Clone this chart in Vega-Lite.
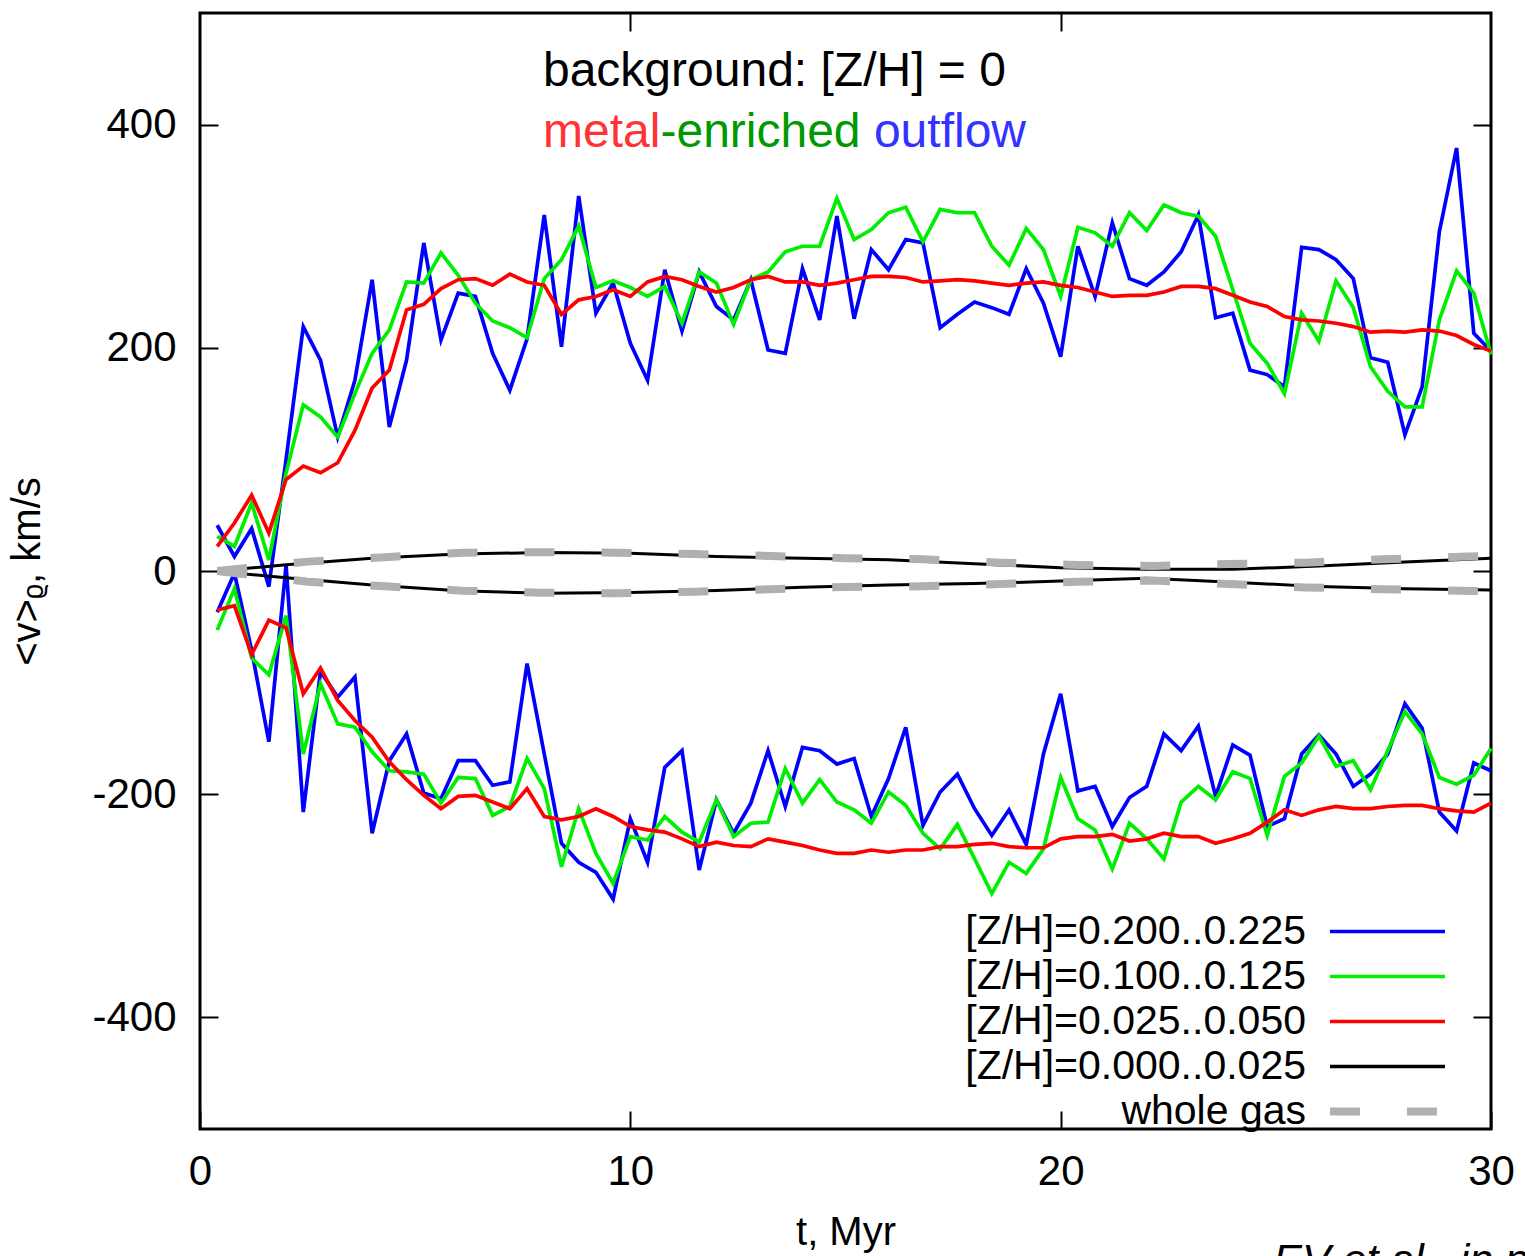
{
  "$schema": "https://vega.github.io/schema/vega-lite/v6.json",
  "width": 1291,
  "height": 1116,
  "autosize": {"type": "none"},
  "padding": {"left": 200, "top": 13, "right": 34, "bottom": 127},
  "background": "white",
  "config": {
    "view": {"stroke": "black", "strokeWidth": 3},
    "axis": {
      "domain": false, "grid": false,
      "tickColor": "black", "tickWidth": 2, "tickSize": -18,
      "labelFont": "Liberation Sans", "labelFontSize": 42, "labelColor": "black",
      "titleFont": "Liberation Sans", "titleFontSize": 40, "titleFontWeight": "normal", "titleColor": "black"
    }
  },
  "datasets": {
    "keys": [
      {"k": "bu", "s": "z200"}, {"k": "bl", "s": "z200"},
      {"k": "gu", "s": "z100"}, {"k": "gl", "s": "z100"},
      {"k": "ru", "s": "z025"}, {"k": "rl", "s": "z025"}
    ],
    "wide": [
      {"t": 0.4, "bu": 41, "gu": 31, "ru": 22, "bl": -37, "gl": -53, "rl": -35},
      {"t": 0.8, "bu": 13, "gu": 22, "ru": 43, "bl": -2, "gl": -16, "rl": -31},
      {"t": 1.2, "bu": 38, "gu": 61, "ru": 68, "bl": -71, "gl": -78, "rl": -75},
      {"t": 1.6, "bu": -14, "gu": 10, "ru": 34, "bl": -153, "gl": -93, "rl": -44},
      {"t": 2.0, "bu": 100, "gu": 88, "ru": 82, "bl": 5, "gl": -40, "rl": -51},
      {"t": 2.4, "bu": 219, "gu": 149, "ru": 94, "bl": -216, "gl": -164, "rl": -110},
      {"t": 2.8, "bu": 189, "gu": 138, "ru": 88, "bl": -90, "gl": -101, "rl": -87},
      {"t": 3.2, "bu": 120, "gu": 120, "ru": 97, "bl": -113, "gl": -137, "rl": -116},
      {"t": 3.6, "bu": 171, "gu": 159, "ru": 126, "bl": -95, "gl": -140, "rl": -134},
      {"t": 4.0, "bu": 261, "gu": 195, "ru": 164, "bl": -235, "gl": -162, "rl": -149},
      {"t": 4.4, "bu": 129, "gu": 216, "ru": 180, "bl": -170, "gl": -179, "rl": -171},
      {"t": 4.8, "bu": 189, "gu": 259, "ru": 234, "bl": -146, "gl": -180, "rl": -187},
      {"t": 5.2, "bu": 294, "gu": 258, "ru": 239, "bl": -199, "gl": -182, "rl": -201},
      {"t": 5.6, "bu": 207, "gu": 285, "ru": 253, "bl": -204, "gl": -208, "rl": -213},
      {"t": 6.0, "bu": 249, "gu": 265, "ru": 261, "bl": -170, "gl": -185, "rl": -202},
      {"t": 6.4, "bu": 246, "gu": 240, "ru": 262, "bl": -170, "gl": -186, "rl": -201},
      {"t": 6.8, "bu": 195, "gu": 224, "ru": 256, "bl": -192, "gl": -219, "rl": -207},
      {"t": 7.2, "bu": 162, "gu": 218, "ru": 266, "bl": -189, "gl": -211, "rl": -213},
      {"t": 7.6, "bu": 208, "gu": 209, "ru": 259, "bl": -83, "gl": -168, "rl": -195},
      {"t": 8.0, "bu": 319, "gu": 262, "ru": 256, "bl": -164, "gl": -195, "rl": -220},
      {"t": 8.4, "bu": 201, "gu": 279, "ru": 230, "bl": -244, "gl": -265, "rl": -223},
      {"t": 8.8, "bu": 336, "gu": 309, "ru": 243, "bl": -261, "gl": -213, "rl": -220},
      {"t": 9.2, "bu": 231, "gu": 254, "ru": 246, "bl": -270, "gl": -253, "rl": -213},
      {"t": 9.6, "bu": 258, "gu": 260, "ru": 252, "bl": -294, "gl": -280, "rl": -220},
      {"t": 10.0, "bu": 204, "gu": 254, "ru": 246, "bl": -222, "gl": -238, "rl": -229},
      {"t": 10.4, "bu": 171, "gu": 246, "ru": 259, "bl": -261, "gl": -241, "rl": -232},
      {"t": 10.8, "bu": 270, "gu": 255, "ru": 264, "bl": -176, "gl": -220, "rl": -234},
      {"t": 11.2, "bu": 215, "gu": 222, "ru": 261, "bl": -161, "gl": -234, "rl": -240},
      {"t": 11.6, "bu": 268, "gu": 268, "ru": 255, "bl": -268, "gl": -243, "rl": -247},
      {"t": 12.0, "bu": 237, "gu": 258, "ru": 250, "bl": -205, "gl": -205, "rl": -243},
      {"t": 12.4, "bu": 225, "gu": 221, "ru": 254, "bl": -235, "gl": -238, "rl": -246},
      {"t": 12.8, "bu": 261, "gu": 261, "ru": 261, "bl": -208, "gl": -226, "rl": -247},
      {"t": 13.2, "bu": 198, "gu": 268, "ru": 264, "bl": -161, "gl": -225, "rl": -240},
      {"t": 13.6, "bu": 195, "gu": 286, "ru": 259, "bl": -211, "gl": -177, "rl": -243},
      {"t": 14.0, "bu": 271, "gu": 291, "ru": 259, "bl": -158, "gl": -208, "rl": -246},
      {"t": 14.4, "bu": 225, "gu": 291, "ru": 256, "bl": -161, "gl": -187, "rl": -250},
      {"t": 14.8, "bu": 318, "gu": 334, "ru": 258, "bl": -173, "gl": -207, "rl": -253},
      {"t": 15.2, "bu": 226, "gu": 297, "ru": 261, "bl": -168, "gl": -214, "rl": -253},
      {"t": 15.6, "bu": 288, "gu": 306, "ru": 264, "bl": -220, "gl": -226, "rl": -250},
      {"t": 16.0, "bu": 270, "gu": 321, "ru": 264, "bl": -186, "gl": -198, "rl": -252},
      {"t": 16.4, "bu": 297, "gu": 326, "ru": 263, "bl": -140, "gl": -210, "rl": -250},
      {"t": 16.8, "bu": 294, "gu": 295, "ru": 259, "bl": -228, "gl": -235, "rl": -250},
      {"t": 17.2, "bu": 218, "gu": 324, "ru": 260, "bl": -198, "gl": -249, "rl": -247},
      {"t": 17.6, "bu": 230, "gu": 321, "ru": 261, "bl": -182, "gl": -227, "rl": -247},
      {"t": 18.0, "bu": 241, "gu": 321, "ru": 260, "bl": -213, "gl": -258, "rl": -245},
      {"t": 18.4, "bu": 236, "gu": 291, "ru": 258, "bl": -237, "gl": -289, "rl": -244},
      {"t": 18.8, "bu": 230, "gu": 274, "ru": 256, "bl": -214, "gl": -261, "rl": -247},
      {"t": 19.2, "bu": 271, "gu": 307, "ru": 258, "bl": -245, "gl": -271, "rl": -248},
      {"t": 19.6, "bu": 240, "gu": 288, "ru": 259, "bl": -164, "gl": -249, "rl": -248},
      {"t": 20.0, "bu": 192, "gu": 246, "ru": 256, "bl": -110, "gl": -185, "rl": -240},
      {"t": 20.4, "bu": 291, "gu": 308, "ru": 254, "bl": -197, "gl": -222, "rl": -238},
      {"t": 20.8, "bu": 246, "gu": 303, "ru": 250, "bl": -193, "gl": -232, "rl": -238},
      {"t": 21.2, "bu": 312, "gu": 291, "ru": 246, "bl": -229, "gl": -267, "rl": -236},
      {"t": 21.6, "bu": 262, "gu": 321, "ru": 247, "bl": -203, "gl": -226, "rl": -242},
      {"t": 22.0, "bu": 256, "gu": 305, "ru": 247, "bl": -193, "gl": -240, "rl": -240},
      {"t": 22.4, "bu": 268, "gu": 328, "ru": 250, "bl": -146, "gl": -258, "rl": -235},
      {"t": 22.8, "bu": 286, "gu": 321, "ru": 255, "bl": -161, "gl": -207, "rl": -238},
      {"t": 23.2, "bu": 319, "gu": 318, "ru": 255, "bl": -139, "gl": -193, "rl": -238},
      {"t": 23.6, "bu": 227, "gu": 300, "ru": 253, "bl": -202, "gl": -205, "rl": -244},
      {"t": 24.0, "bu": 231, "gu": 252, "ru": 247, "bl": -156, "gl": -180, "rl": -240},
      {"t": 24.4, "bu": 180, "gu": 204, "ru": 241, "bl": -165, "gl": -186, "rl": -235},
      {"t": 24.8, "bu": 176, "gu": 186, "ru": 237, "bl": -229, "gl": -237, "rl": -225},
      {"t": 25.2, "bu": 165, "gu": 159, "ru": 228, "bl": -222, "gl": -184, "rl": -214},
      {"t": 25.6, "bu": 290, "gu": 231, "ru": 225, "bl": -164, "gl": -172, "rl": -219},
      {"t": 26.0, "bu": 288, "gu": 206, "ru": 224, "bl": -147, "gl": -148, "rl": -214},
      {"t": 26.4, "bu": 279, "gu": 260, "ru": 222, "bl": -164, "gl": -175, "rl": -211},
      {"t": 26.8, "bu": 262, "gu": 236, "ru": 219, "bl": -193, "gl": -170, "rl": -213},
      {"t": 27.2, "bu": 191, "gu": 183, "ru": 214, "bl": -182, "gl": -196, "rl": -213},
      {"t": 27.6, "bu": 187, "gu": 161, "ru": 215, "bl": -164, "gl": -161, "rl": -211},
      {"t": 28.0, "bu": 122, "gu": 147, "ru": 214, "bl": -119, "gl": -126, "rl": -210},
      {"t": 28.4, "bu": 165, "gu": 147, "ru": 216, "bl": -141, "gl": -146, "rl": -210},
      {"t": 28.8, "bu": 304, "gu": 225, "ru": 215, "bl": -216, "gl": -185, "rl": -213},
      {"t": 29.2, "bu": 379, "gu": 269, "ru": 211, "bl": -233, "gl": -191, "rl": -215},
      {"t": 29.6, "bu": 213, "gu": 249, "ru": 203, "bl": -172, "gl": -183, "rl": -216},
      {"t": 30.0, "bu": 197, "gu": 194, "ru": 197, "bl": -179, "gl": -159, "rl": -208}
    ],
    "smooth": [
      {"s": "z000", "k": "ku", "t": 0.4, "v": 0},
      {"s": "z000", "k": "ku", "t": 2, "v": 5.5},
      {"s": "z000", "k": "ku", "t": 4, "v": 11.4},
      {"s": "z000", "k": "ku", "t": 6, "v": 15.3},
      {"s": "z000", "k": "ku", "t": 8, "v": 16.5},
      {"s": "z000", "k": "ku", "t": 10, "v": 15.8},
      {"s": "z000", "k": "ku", "t": 12, "v": 13},
      {"s": "z000", "k": "ku", "t": 14, "v": 11.5},
      {"s": "z000", "k": "ku", "t": 16, "v": 10},
      {"s": "z000", "k": "ku", "t": 18, "v": 6.5},
      {"s": "z000", "k": "ku", "t": 20, "v": 3},
      {"s": "z000", "k": "ku", "t": 22, "v": 1.5},
      {"s": "z000", "k": "ku", "t": 24, "v": 1.5},
      {"s": "z000", "k": "ku", "t": 26, "v": 4.5},
      {"s": "z000", "k": "ku", "t": 28, "v": 8},
      {"s": "z000", "k": "ku", "t": 30, "v": 11.4},
      {"s": "z000", "k": "kl", "t": 0.4, "v": -0.5},
      {"s": "z000", "k": "kl", "t": 2, "v": -6},
      {"s": "z000", "k": "kl", "t": 4, "v": -12.6},
      {"s": "z000", "k": "kl", "t": 6, "v": -17.8},
      {"s": "z000", "k": "kl", "t": 8, "v": -20},
      {"s": "z000", "k": "kl", "t": 10, "v": -19.3},
      {"s": "z000", "k": "kl", "t": 12, "v": -17.5},
      {"s": "z000", "k": "kl", "t": 14, "v": -14.5},
      {"s": "z000", "k": "kl", "t": 16, "v": -12.6},
      {"s": "z000", "k": "kl", "t": 18, "v": -11.3},
      {"s": "z000", "k": "kl", "t": 20, "v": -9},
      {"s": "z000", "k": "kl", "t": 22, "v": -6.6},
      {"s": "z000", "k": "kl", "t": 24, "v": -10},
      {"s": "z000", "k": "kl", "t": 26, "v": -14},
      {"s": "z000", "k": "kl", "t": 28, "v": -15.8},
      {"s": "z000", "k": "kl", "t": 30, "v": -17},
      {"s": "gas", "k": "wu", "t": 0.4, "v": 0},
      {"s": "gas", "k": "wu", "t": 2.5, "v": 8.4},
      {"s": "gas", "k": "wu", "t": 4.3, "v": 12.4},
      {"s": "gas", "k": "wu", "t": 6.1, "v": 16.4},
      {"s": "gas", "k": "wu", "t": 7.9, "v": 16.8},
      {"s": "gas", "k": "wu", "t": 9.7, "v": 16.4},
      {"s": "gas", "k": "wu", "t": 11.5, "v": 15.2},
      {"s": "gas", "k": "wu", "t": 13.25, "v": 13.5},
      {"s": "gas", "k": "wu", "t": 15, "v": 11.4},
      {"s": "gas", "k": "wu", "t": 16.8, "v": 10.5},
      {"s": "gas", "k": "wu", "t": 18.6, "v": 7.5},
      {"s": "gas", "k": "wu", "t": 20.4, "v": 5.4},
      {"s": "gas", "k": "wu", "t": 22.15, "v": 4.5},
      {"s": "gas", "k": "wu", "t": 23.9, "v": 6.3},
      {"s": "gas", "k": "wu", "t": 25.7, "v": 7.5},
      {"s": "gas", "k": "wu", "t": 27.5, "v": 10.5},
      {"s": "gas", "k": "wu", "t": 29.3, "v": 12.8},
      {"s": "gas", "k": "wu", "t": 30, "v": 13.5},
      {"s": "gas", "k": "wl", "t": 0.4, "v": 0},
      {"s": "gas", "k": "wl", "t": 2.5, "v": -9.6},
      {"s": "gas", "k": "wl", "t": 4.3, "v": -13.7},
      {"s": "gas", "k": "wl", "t": 6.1, "v": -17.6},
      {"s": "gas", "k": "wl", "t": 7.9, "v": -19.4},
      {"s": "gas", "k": "wl", "t": 9.7, "v": -20},
      {"s": "gas", "k": "wl", "t": 11.5, "v": -18.5},
      {"s": "gas", "k": "wl", "t": 13.25, "v": -16.4},
      {"s": "gas", "k": "wl", "t": 15, "v": -14.3},
      {"s": "gas", "k": "wl", "t": 16.8, "v": -13.7},
      {"s": "gas", "k": "wl", "t": 18.6, "v": -11.7},
      {"s": "gas", "k": "wl", "t": 20.4, "v": -9.6},
      {"s": "gas", "k": "wl", "t": 22.15, "v": -8.6},
      {"s": "gas", "k": "wl", "t": 23.9, "v": -11.7},
      {"s": "gas", "k": "wl", "t": 25.7, "v": -14.7},
      {"s": "gas", "k": "wl", "t": 27.5, "v": -16.4},
      {"s": "gas", "k": "wl", "t": 29.3, "v": -17.6},
      {"s": "gas", "k": "wl", "t": 30, "v": -18}
    ]
  },
  "resolve": {"axis": {"x": "independent", "y": "independent"}},
  "layer": [
    {
      "data": {"name": "wide"},
      "transform": [
        {"fold": ["bu", "gu", "ru", "bl", "gl", "rl"], "as": ["k", "v"]},
        {"lookup": "k", "from": {"data": {"name": "keys"}, "key": "k", "fields": ["s"]}}
      ],
      "mark": {"type": "line", "strokeWidth": 3.7},
      "encoding": {
        "x": {"field": "t", "type": "quantitative",
              "scale": {"domain": [0, 30], "nice": false, "zero": false},
              "axis": {"values": [0, 10, 20, 30], "title": "t, Myr", "labelFlush": false, "labelPadding": 40, "titlePadding": 20}},
        "y": {"field": "v", "type": "quantitative",
              "scale": {"domain": [-500, 500], "nice": false, "zero": false},
              "axis": {"values": [-400, -200, 0, 200, 400], "title": "<v>ᵨ, km/s", "labelExpr": "datum.value + ''", "labelPadding": 42, "titlePadding": 44}},
        "color": {"field": "s", "type": "nominal",
                  "scale": {"domain": ["z200", "z100", "z025", "z000", "gas"], "range": ["#0000ff", "#00ee00", "#ff0000", "#000000", "#b0b0b0"]},
                  "legend": {
                    "orient": "none", "legendX": 1167, "legendY": 898, "title": null, "padding": 0,
                    "symbolType": "M-11.5,0H11.5", "symbolSize": 100,
                    "labelAlign": "right", "labelOffset": -102, "labelFont": "Liberation Sans", "labelFontSize": 41,
                    "labelColor": "black", "labelLimit": 0, "rowPadding": 3,
                    "labelExpr": "datum.value == 'z200' ? '[Z/H]=0.200..0.225' : datum.value == 'z100' ? '[Z/H]=0.100..0.125' : datum.value == 'z025' ? '[Z/H]=0.025..0.050' : datum.value == 'z000' ? '[Z/H]=0.000..0.025' : 'whole gas'",
                    "encode": {"symbols": {"update": {
                      "strokeDash": {"signal": "datum.value == 'gas' ? [30, 47] : [1, 0]"},
                      "strokeWidth": {"signal": "datum.value == 'gas' ? 8 : 3.5"}
                    }}}
                  }},
        "detail": {"field": "k"}
      }
    },
    {
      "data": {"name": "smooth"},
      "transform": [{"filter": "datum.s == 'z000'"}],
      "mark": {"type": "line", "strokeWidth": 3},
      "encoding": {
        "x": {"field": "t", "type": "quantitative", "scale": {"domain": [0, 30], "nice": false, "zero": false}, "axis": null},
        "y": {"field": "v", "type": "quantitative", "scale": {"domain": [-500, 500], "nice": false, "zero": false}, "axis": null},
        "color": {"field": "s", "type": "nominal"},
        "detail": {"field": "k"}
      }
    },
    {
      "data": {"name": "smooth"},
      "transform": [{"filter": "datum.s == 'gas'"}],
      "mark": {"type": "line", "strokeWidth": 8, "strokeDash": [30, 47], "strokeCap": "butt"},
      "encoding": {
        "x": {"field": "t", "type": "quantitative", "scale": {"domain": [0, 30], "nice": false, "zero": false},
              "axis": {"orient": "top", "values": [10, 20], "labels": false, "title": null}},
        "y": {"field": "v", "type": "quantitative", "scale": {"domain": [-500, 500], "nice": false, "zero": false},
              "axis": {"orient": "right", "values": [-400, -200, 0, 200, 400], "labels": false, "title": null}},
        "color": {"field": "s", "type": "nominal"},
        "detail": {"field": "k"}
      }
    },
    {
      "data": {"values": [{}]},
      "mark": {"type": "text", "text": "background: [Z/H] = 0", "align": "left", "baseline": "alphabetic", "font": "Liberation Sans", "fontSize": 48, "color": "#000000"},
      "encoding": {
        "x": {"datum": 7.97, "type": "quantitative", "scale": {"domain": [0, 30], "nice": false, "zero": false}, "axis": null},
        "y": {"datum": 434.5, "type": "quantitative", "scale": {"domain": [-500, 500], "nice": false, "zero": false}, "axis": null}
      }
    },
    {
      "data": {"values": [{}]},
      "mark": {"type": "text", "text": "metal", "align": "left", "baseline": "alphabetic", "font": "Liberation Sans", "fontSize": 48, "color": "#ff3333"},
      "encoding": {
        "x": {"datum": 7.97, "type": "quantitative", "scale": {"domain": [0, 30], "nice": false, "zero": false}, "axis": null},
        "y": {"datum": 380, "type": "quantitative", "scale": {"domain": [-500, 500], "nice": false, "zero": false}, "axis": null}
      }
    },
    {
      "data": {"values": [{}]},
      "mark": {"type": "text", "text": "-enriched", "align": "left", "baseline": "alphabetic", "font": "Liberation Sans", "fontSize": 48, "color": "#009900"},
      "encoding": {
        "x": {"datum": 10.70, "type": "quantitative", "scale": {"domain": [0, 30], "nice": false, "zero": false}, "axis": null},
        "y": {"datum": 380, "type": "quantitative", "scale": {"domain": [-500, 500], "nice": false, "zero": false}, "axis": null}
      }
    },
    {
      "data": {"values": [{}]},
      "mark": {"type": "text", "text": "outflow", "align": "left", "baseline": "alphabetic", "font": "Liberation Sans", "fontSize": 48, "color": "#3333ff"},
      "encoding": {
        "x": {"datum": 15.66, "type": "quantitative", "scale": {"domain": [0, 30], "nice": false, "zero": false}, "axis": null},
        "y": {"datum": 380, "type": "quantitative", "scale": {"domain": [-500, 500], "nice": false, "zero": false}, "axis": null}
      }
    },
    {
      "data": {"values": [{}]},
      "mark": {"type": "text", "text": "EV et al., in prep.", "align": "left", "baseline": "alphabetic", "font": "Liberation Sans", "fontStyle": "italic", "fontSize": 43, "color": "#000000"},
      "encoding": {
        "x": {"datum": 24.94, "type": "quantitative", "scale": {"domain": [0, 30], "nice": false, "zero": false}, "axis": null},
        "y": {"datum": -630, "type": "quantitative", "scale": {"domain": [-500, 500], "nice": false, "zero": false}, "axis": null}
      }
    }
  ]
}
